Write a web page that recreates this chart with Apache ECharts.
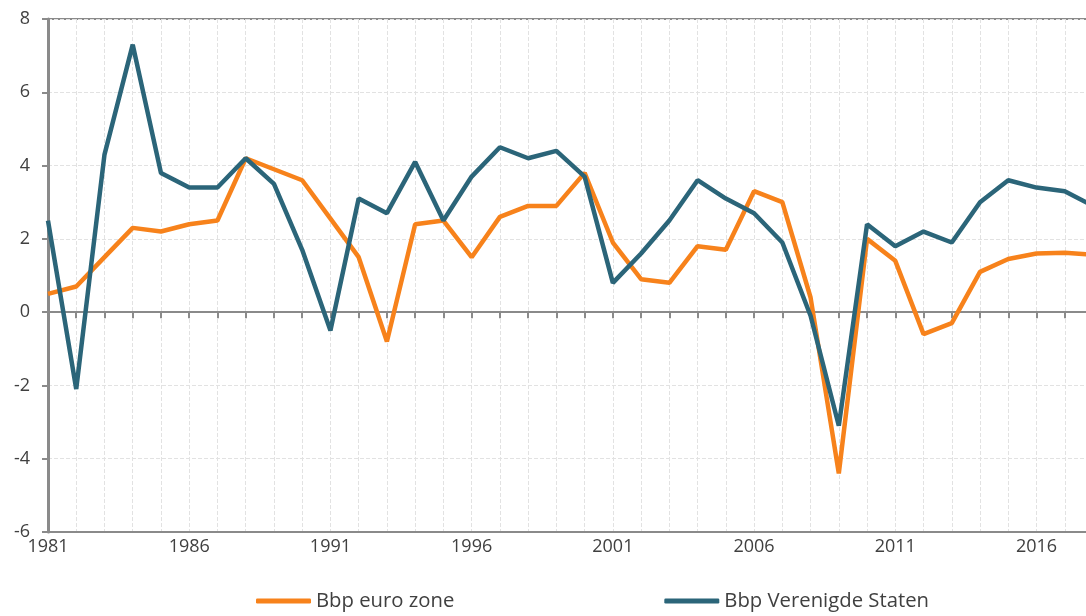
<!DOCTYPE html>
<html>
<head>
<meta charset="utf-8">
<script src="https://cdn.jsdelivr.net/npm/echarts@6/dist/echarts.min.js"></script>
<style>
  html, body { margin: 0; padding: 0; background: #fff; }
  #chart { width: 1086px; height: 616px; }
</style>
</head>
<body>
<div id="chart"></div>
<script>
// jaren 1981 - 2018
var jaren = [];
for (var j = 1981; j <= 2018; j++) { jaren.push(String(j)); }

var euroZone = [0.5, 0.7, 1.5, 2.3, 2.2, 2.4, 2.5, 4.2, 3.9, 3.6,
                2.55, 1.5, -0.8, 2.4, 2.5, 1.5, 2.6, 2.9, 2.9, 3.8,
                1.9, 0.9, 0.8, 1.8, 1.7, 3.3, 3.0, 0.4, -4.4, 2.0,
                1.4, -0.6, -0.3, 1.1, 1.45, 1.6, 1.62, 1.57];

var verenigdeStaten = [2.5, -2.1, 4.3, 7.3, 3.8, 3.4, 3.4, 4.2, 3.5, 1.7,
                       -0.5, 3.1, 2.7, 4.1, 2.5, 3.7, 4.5, 4.2, 4.4, 3.7,
                       0.8, 1.6, 2.5, 3.6, 3.1, 2.7, 1.9, -0.1, -3.1, 2.4,
                       1.8, 2.2, 1.9, 3.0, 3.6, 3.4, 3.3, 2.9];

var font = 'Open Sans';
var tekst = '#404040';
var asKleur = '#8a8a8a';

var myChart = echarts.init(document.getElementById('chart'));
myChart.setOption({
    animation: false,
    textStyle: { fontFamily: font },
    grid: {
        left: 48, right: -7, top: 19, bottom: 84,
        outerBoundsMode: 'none',
        show: true, borderColor: asKleur, borderWidth: 2
    },
    legend: {
        left: 251, top: 586,
        itemWidth: 55, itemHeight: 5, itemGap: 210,
        icon: 'roundRect',
        textStyle: { fontFamily: font, fontSize: 20.3, color: tekst },
        data: ['Bbp euro zone', 'Bbp Verenigde Staten']
    },
    xAxis: [
        {
            // as op nul met streepjes
            type: 'category', data: jaren, boundaryGap: false, position: 'bottom',
            axisLine: { onZero: true, lineStyle: { color: asKleur, width: 2 } },
            axisTick: { show: true, interval: 0, length: 6, lineStyle: { color: asKleur, width: 2 } },
            axisLabel: { show: false },
            splitLine: { show: true, interval: 0, lineStyle: { color: '#e2e2e2', type: 'dashed' } }
        },
        {
            // onderste as met labels
            type: 'category', data: jaren, boundaryGap: false, position: 'bottom',
            axisLine: { onZero: false, lineStyle: { color: asKleur, width: 2 } },
            axisTick: { show: false },
            axisLabel: { interval: 4, margin: 6, fontSize: 18, color: tekst, fontFamily: font },
            splitLine: { show: false }
        }
    ],
    yAxis: {
        type: 'value', min: -6, max: 8, interval: 2,
        axisLine: { show: true, lineStyle: { color: asKleur, width: 3 } },
        axisTick: { show: true, length: 6, lineStyle: { color: asKleur, width: 2 } },
        axisLabel: { margin: 18, fontSize: 18, color: tekst, fontFamily: font },
        splitLine: { show: true, lineStyle: { color: '#e2e2e2', type: 'dashed' } }
    },
    series: [
        {
            name: 'Bbp euro zone', type: 'line', data: euroZone,
            showSymbol: false, symbol: 'none',
            itemStyle: { color: '#f7821b' },
            lineStyle: { color: '#f7821b', width: 4.5 },
            z: 3
        },
        {
            name: 'Bbp Verenigde Staten', type: 'line', data: verenigdeStaten,
            showSymbol: false, symbol: 'none',
            itemStyle: { color: '#2b6579' },
            lineStyle: { color: '#2b6579', width: 4.5 },
            z: 4
        }
    ]
});
</script>
</body>
</html>
